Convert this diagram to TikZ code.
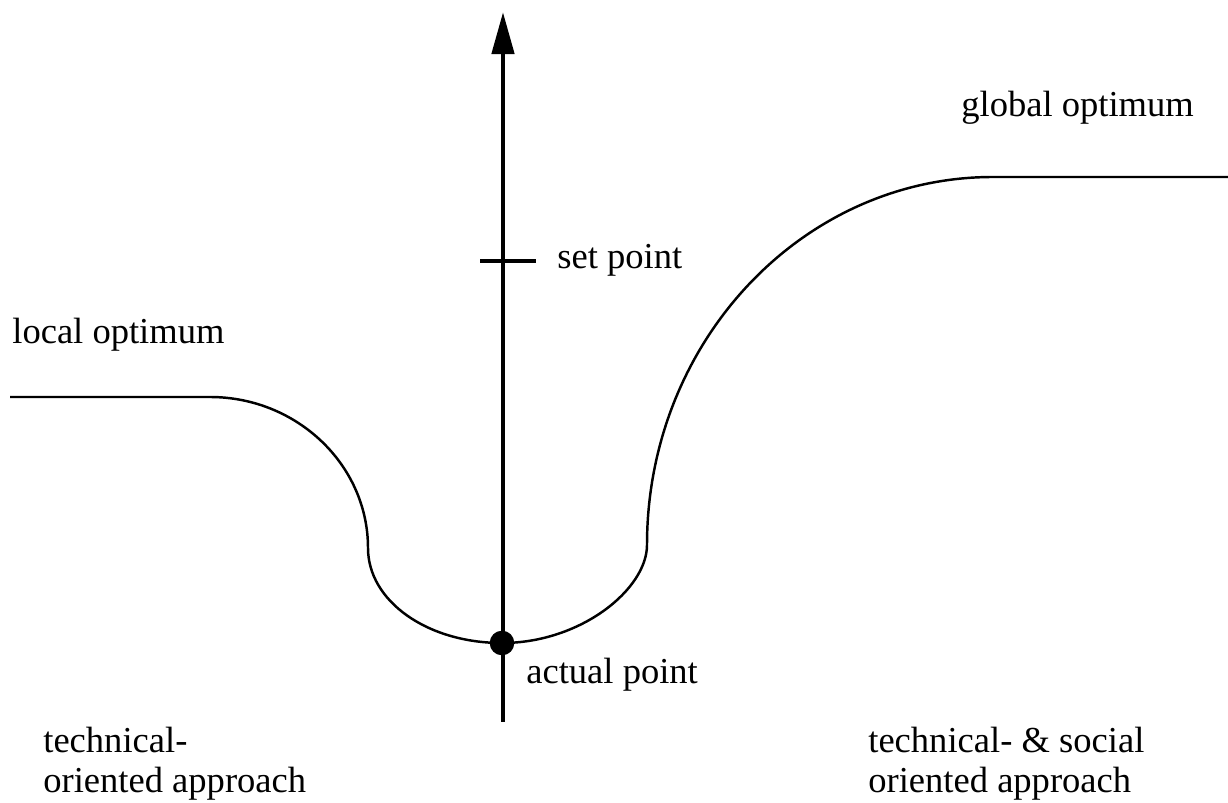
\documentclass[tikz,border=0pt]{standalone}
\usepackage{fontspec}
\setmainfont{Liberation Serif}
\usepackage{tikz}
\usetikzlibrary{arrows.meta,positioning}

\begin{document}
\begin{tikzpicture}[
  x=0.02cm,y=-0.02cm,
  curve/.style={line width=1.4pt,line join=round},
  axis/.style={line width=2.8pt,-{Triangle[length=24pt,width=12.5pt]}},
  tickline/.style={line width=1.8pt},
  lbl/.style={font=\fontsize{20.8}{22.7}\selectfont,inner sep=0pt,anchor=base west,align=left},
  dot/.style={circle,fill=black,inner sep=0pt,minimum size=14pt}
]
\useasboundingbox (0,0) rectangle (1228,803);
% vertical axis
\coordinate (axisbot) at (503,722);
\coordinate (axistop) at (503,12);
\draw[axis] (axisbot) -- (axistop);
% set point mark
\coordinate (tickl) at (480,261);
\coordinate (tickr) at (536,261);
\draw[tickline] (tickl) -- (tickr);
% landscape curve
\draw[curve] (10,397) -- (210,397)
  .. controls (297,397) and (368,465) .. (368,548)
  .. controls (368,601) and (427,643) .. (502,643)
  .. controls (581,643) and (647,589) .. (647,545)
  .. controls (647,342) and (802,177) .. (993,177)
  -- (1228,177);
\node[dot] (actual) at (502,643) {};
% labels
\node[lbl] (setpt) at (557,269) {set point};
\node[lbl] (actlbl) at (526,684) {actual point};
\node[lbl] (local) at (12,344) {local optimum};
\node[lbl] (global) at (961,117) {global optimum};
\node[lbl] (techleft) at (43,792) {technical-\\oriented approach};
\node[lbl] (techright) at (868,792) {technical- \& social\\oriented approach};
\end{tikzpicture}
\end{document}
